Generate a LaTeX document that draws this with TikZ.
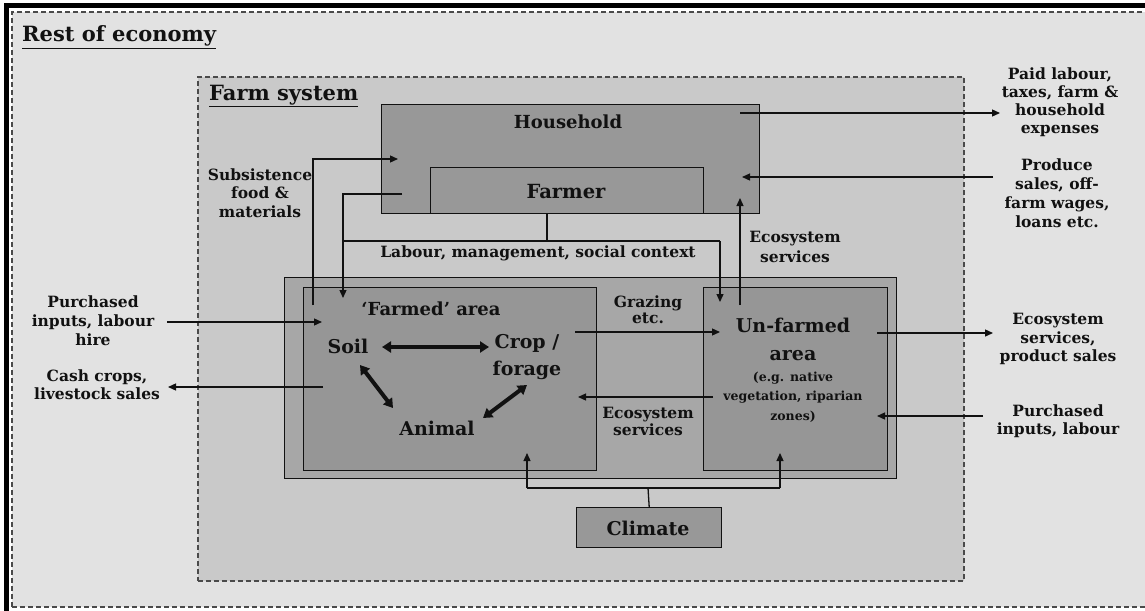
\documentclass[tikz,border=0pt]{standalone}
\usepackage{fontspec}
\setmainfont{DejaVu Serif}
\usetikzlibrary{arrows.meta}

\definecolor{econfill}{HTML}{E2E2E2}
\definecolor{farmfill}{HTML}{C9C9C9}
\definecolor{housefill}{HTML}{989898}
\definecolor{areafill}{HTML}{A7A7A7}
\definecolor{zonefill}{HTML}{969696}
\definecolor{inkcol}{HTML}{111111}
\definecolor{dashcol}{HTML}{4A4A4A}

\newcommand{\fs}[2]{\fontsize{#1}{#2}\selectfont\bfseries}

\tikzset{
  box/.style={draw=inkcol, line width=1.4pt, inner sep=0pt, anchor=north west},
  lbl/.style={inner sep=0pt, align=center, text=inkcol},
  flow/.style={draw=inkcol, line width=1.3pt, -{Triangle[length=8pt,width=7pt]}},
  link/.style={draw=inkcol, line width=1.3pt},
  twoway/.style={draw=inkcol, line width=4pt,
    {Triangle[length=9pt,width=11pt]}-{Triangle[length=9pt,width=11pt]}},
  frame/.style={draw=dashcol, line width=1.6pt, dash pattern=on 5pt off 3pt},
}

\begin{document}
\begin{tikzpicture}[x=1pt,y=-1pt]
\useasboundingbox (0,0) rectangle (1145,610);
\clip (0,0) rectangle (1145,610);

% rest of the economy
\fill[econfill] (12,12) rectangle (1170,607);
\draw[frame] (12,607) -- (12,12) -- (1170,12);
\draw[frame] (12,607) -- (1170,607);
\draw[black, line width=5pt] (6.5,615) -- (6.5,5.5) -- (1170,5.5);
\node[lbl, anchor=base west, font=\fs{21}{24}] (econ) at (22,42) {\underline{Rest of economy}};

% farm system
\node[box, frame, fill=farmfill, minimum width=766pt, minimum height=504pt] (farm) at (197,76) {};
\node[lbl, anchor=base west, font=\fs{21}{24}] (farmttl) at (209,100) {\underline{Farm system}};

% household and farmer
\node[box, fill=housefill, minimum width=378pt, minimum height=109pt] (house) at (381,104) {};
\node[box, fill=housefill, minimum width=273pt, minimum height=46pt] (farmer) at (430,167) {};
\node[lbl, font=\fs{18}{20}] (housettl) at (568,122) {Household};
\node[lbl, font=\fs{19.5}{21}] (farmerttl) at (566,192) {Farmer};

% land
\node[box, fill=areafill, minimum width=612pt, minimum height=201pt] (land) at (284,277) {};
\node[box, fill=zonefill, minimum width=293pt, minimum height=183pt] (farmed) at (303,287) {};
\node[box, fill=zonefill, minimum width=184pt, minimum height=183pt] (unfarmed) at (703,287) {};

\node[lbl, font=\fs{18}{20}] (farmedttl) at (431,309) {‘Farmed’ area};
\node[lbl, font=\fs{19}{21}] (soil) at (348,346) {Soil};
\node[lbl, font=\fs{19}{27}] (crop) at (527,357) {Crop /\\forage};
\node[lbl, font=\fs{19}{21}] (animal) at (437,428) {Animal};

\node[lbl, font=\fs{19}{28}] (unfarmedttl) at (793,339) {Un-farmed\\area};
\node[lbl, font=\fs{12.5}{19.5}] (unfarmednote) at (793,397) {(e.g. native\\vegetation, riparian\\zones)};

% climate
\node[box, fill=housefill, minimum width=145pt, minimum height=40pt] (climate) at (576,507) {};
\node[lbl, font=\fs{19}{21}] (climatettl) at (648,528) {Climate};

% labels for flows
\node[lbl, font=\fs{15.5}{18.5}] (subsist) at (260,193) {Subsistence\\food \&\\materials};
\node[lbl, font=\fs{15.5}{18}] (labour) at (538,253) {Labour, management, social context};
\node[lbl, font=\fs{15.5}{20}] (ecoup) at (795,247) {Ecosystem\\services};
\node[lbl, font=\fs{15.5}{16}] (grazing) at (648,310) {Grazing\\etc.};
\node[lbl, font=\fs{15.5}{17}] (ecodown) at (648,421.5) {Ecosystem\\services};
\node[lbl, font=\fs{15.5}{18}] (paid) at (1060,102) {Paid labour,\\taxes, farm \&\\household\\expenses};
\node[lbl, font=\fs{15.5}{19}] (produce) at (1057,193.5) {Produce\\sales, off-\\farm wages,\\loans etc.};
\node[lbl, font=\fs{15.5}{19}] (buyin) at (93,321) {Purchased\\inputs, labour\\hire};
\node[lbl, font=\fs{15.5}{18}] (cash) at (97,385) {Cash crops,\\livestock sales};
\node[lbl, font=\fs{15.5}{18.5}] (ecosales) at (1058,339) {Ecosystem\\services,\\product sales};
\node[lbl, font=\fs{15.5}{18}] (buyin2) at (1058,421) {Purchased\\inputs, labour};

% flow end points
\coordinate (subA) at (313,305);
\coordinate (subB) at (398,159);
\coordinate (hhA) at (402,194);
\coordinate (hhB) at (343,298);
\coordinate (labA) at (547,213);
\coordinate (labJ) at (547,241);
\coordinate (labL) at (343,241);
\coordinate (labR) at (720,241);
\coordinate (labB) at (720,302);
\coordinate (ecoA) at (740,305);
\coordinate (ecoB) at (740,198);
\coordinate (paidA) at (740,113);
\coordinate (paidB) at (1000,113);
\coordinate (prodA) at (993,177);
\coordinate (prodB) at (742,177);
\coordinate (buyA) at (167,322);
\coordinate (buyB) at (322,322);
\coordinate (cashA) at (323,387);
\coordinate (cashB) at (168,387);
\coordinate (grzA) at (575,332);
\coordinate (grzB) at (720,332);
\coordinate (ecdA) at (713,397);
\coordinate (ecdB) at (578,397);
\coordinate (salA) at (877,333);
\coordinate (salB) at (993,333);
\coordinate (by2A) at (983,416);
\coordinate (by2B) at (877,416);
\coordinate (climJ) at (648,488);
\coordinate (climL) at (527,488);
\coordinate (climR) at (780,488);
\coordinate (climLB) at (527,453);
\coordinate (climRB) at (780,453);

% household exchanges
\draw[flow] (subA) |- (subB);
\draw[flow] (hhA) -| (hhB);
\draw[link] (labA) -- (labJ);
\draw[link] (labL) -- (labR);
\draw[flow] (labR) -- (labB);
\draw[flow] (ecoA) -- (ecoB);
\draw[flow] (paidA) -- (paidB);
\draw[flow] (prodA) -- (prodB);

% land exchanges
\draw[flow] (buyA) -- (buyB);
\draw[flow] (cashA) -- (cashB);
\draw[flow] (grzA) -- (grzB);
\draw[flow] (ecdA) -- (ecdB);
\draw[flow] (salA) -- (salB);
\draw[flow] (by2A) -- (by2B);

% climate
\draw[link] (climate.north) -- (climJ);
\draw[link] (climL) -- (climR);
\draw[flow] (climL) -- (climLB);
\draw[flow] (climR) -- (climRB);

% soil, crop and animal interplay
\coordinate (s1) at (382,347);
\coordinate (c1) at (489,347);
\coordinate (s2) at (360,365);
\coordinate (a2) at (393,408);
\coordinate (a3) at (483,418);
\coordinate (c3) at (527,385);
\draw[twoway] (s1) -- (c1);
\draw[twoway] (s2) -- (a2);
\draw[twoway] (a3) -- (c3);
\end{tikzpicture}
\end{document}
